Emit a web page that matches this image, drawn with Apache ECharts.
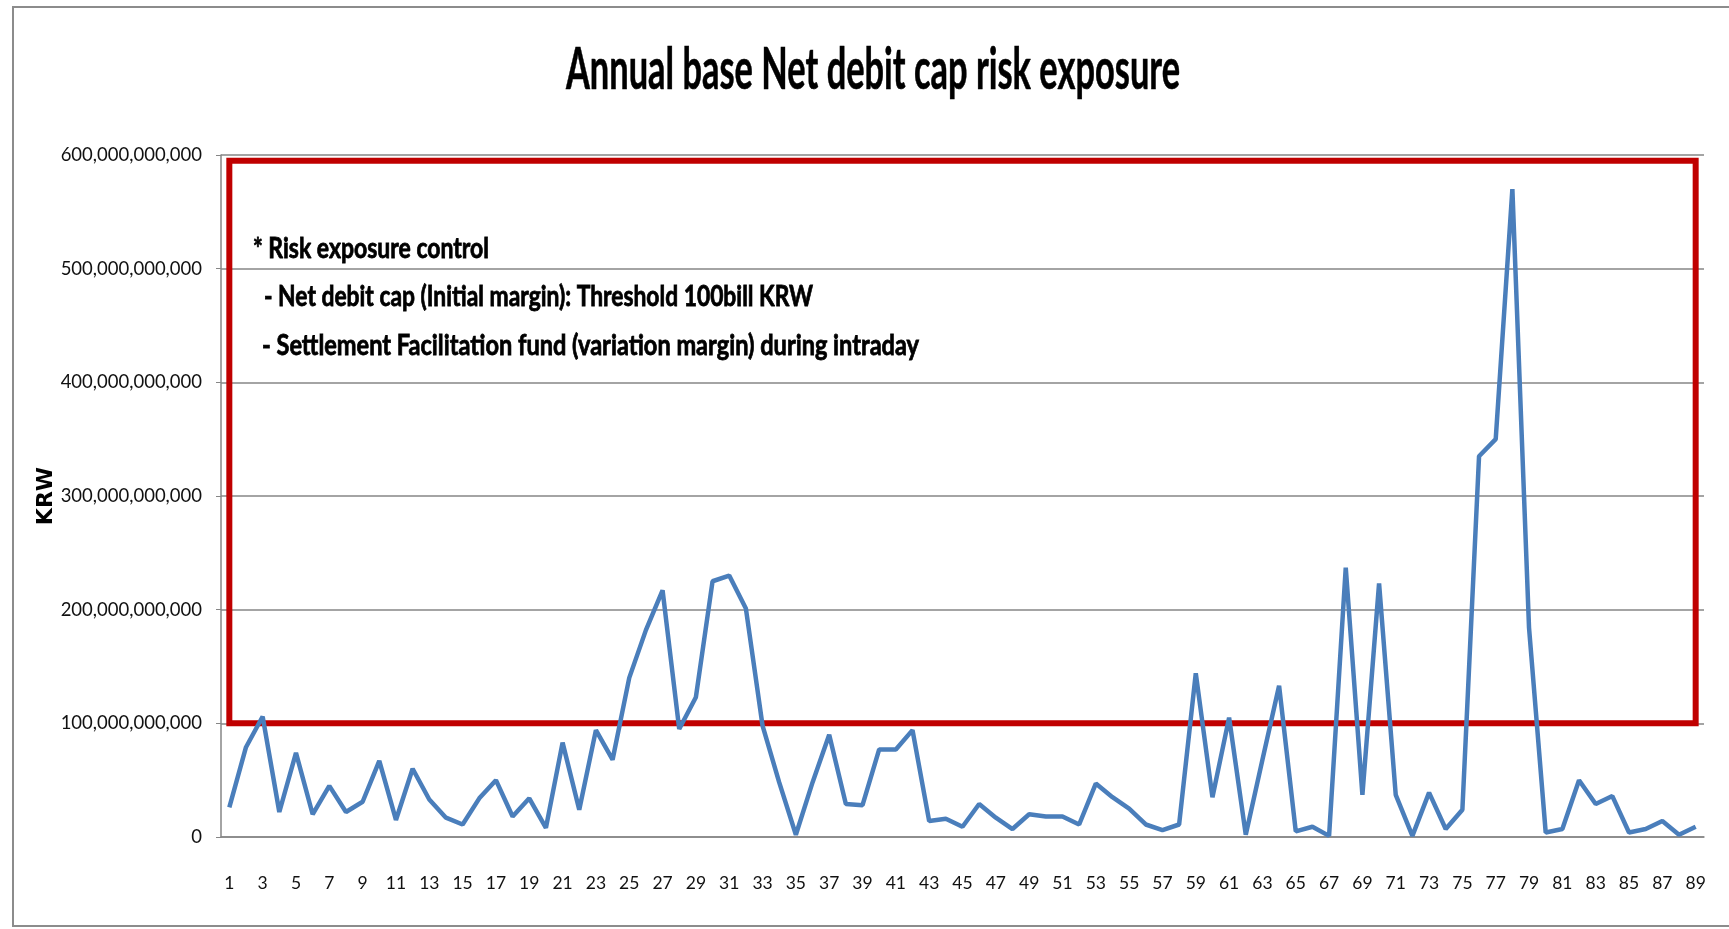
<!DOCTYPE html>
<html>
<head>
    <meta charset="UTF-8"/>
    <script type="text/javascript" src="https://cdn.jsdelivr.net/npm/echarts@6/dist/echarts.min.js"></script>
    <title>Annual base Net debit cap risk exposure</title>
    <style>
        html, body { margin: 0; padding: 0; background: #fff; }
        #main { width: 1729px; height: 929px; }
    </style>
</head>
<body>
<div id="main"></div>
<script type="text/javascript">
    // x categories (days)
    var days = [1, 2, 3, 4, 5, 6, 7, 8, 9, 10, 11, 12, 13, 14, 15, 16, 17, 18, 19, 20,
        21, 22, 23, 24, 25, 26, 27, 28, 29, 30, 31, 32, 33, 34, 35, 36, 37, 38, 39, 40,
        41, 42, 43, 44, 45, 46, 47, 48, 49, 50, 51, 52, 53, 54, 55, 56, 57, 58, 59, 60,
        61, 62, 63, 64, 65, 66, 67, 68, 69, 70, 71, 72, 73, 74, 75, 76, 77, 78, 79, 80,
        81, 82, 83, 84, 85, 86, 87, 88, 89]

    // exposure, in billion KRW
    var exposureBill = [26, 79, 106, 22, 74, 20, 45, 22, 31, 67, 15, 60, 33, 17, 11, 34, 50, 18, 34, 8,
        83, 24, 94, 68, 140, 182, 217, 95, 123, 225, 230, 201, 98, 48, 2, 48, 90, 29, 28, 77,
        77, 94, 14, 16, 9, 29, 17, 7, 20, 18, 18, 11, 47, 35, 25, 11, 6, 11, 144, 35,
        105, 2, 68, 133, 5, 9, 1, 237, 37, 223, 37, 1, 39, 7, 24, 335, 350, 570, 184, 4,
        7, 50, 29, 36, 4, 7, 14, 2, 9]

    // control box: from the threshold up to near the top
    var capThreshold = 100e9
    var boxTop = 595e9

    var chartTitle = 'Annual base Net debit cap risk exposure'
    var noteLines = [
        '* Risk exposure control',
        '- Net debit cap (Initial margin): Threshold 100bill KRW',
        '- Settlement Facilitation fund (variation margin) during intraday'
    ]

    var labelFont = "Lato, 'Open Sans', sans-serif"

    // squeeze text horizontally so it takes the given width (the original uses a condensed face)
    var measureCtx = document.createElement('canvas').getContext('2d')
    function fitScale(text, font, width) {
        measureCtx.font = font
        return width / measureCtx.measureText(text).width
    }

    var titleFont = 'bold 57px ' + labelFont
    var noteFont = 'bold 29px ' + labelFont

    function noteText(i, left, y, width) {
        return {
            type: 'text',
            x: left,
            y: y,
            scaleX: fitScale(noteLines[i], noteFont, width),
            silent: true,
            style: {
                text: noteLines[i],
                font: noteFont,
                fill: '#000',
                stroke: '#000',
                lineWidth: 0.8,
                align: 'left',
                verticalAlign: 'middle'
            }
        }
    }

    var myChart = echarts.init(document.getElementById('main'))

    var option = {
        backgroundColor: '#fff',
        animation: false,
        grid: {
            left: 221,
            right: 25,
            top: 155,
            bottom: 92,
            containLabel: false,
            outerBoundsMode: 'none'
        },
        xAxis: {
            type: 'category',
            data: days,
            boundaryGap: true,
            axisLine: { lineStyle: { color: '#868686', width: 1.5 } },
            axisTick: { show: false },
            axisLabel: {
                interval: 1,
                margin: 37,
                fontFamily: labelFont,
                fontSize: 17.5,
                color: '#111'
            }
        },
        yAxis: {
            type: 'value',
            min: 0,
            max: 600e9,
            interval: 100e9,
            name: 'KRW',
            nameLocation: 'middle',
            nameGap: 164,
            nameMoveOverlap: false,
            nameTextStyle: {
                fontFamily: "'DejaVu Sans', sans-serif",
                fontWeight: 'bold',
                fontSize: 22,
                color: '#000'
            },
            axisLine: { show: true, lineStyle: { color: '#868686', width: 1.5 } },
            axisTick: { show: true, length: 5, lineStyle: { color: '#868686' } },
            splitLine: { lineStyle: { color: '#868686', width: 1.5 } },
            axisLabel: {
                margin: 19,
                fontFamily: labelFont,
                fontSize: 18.5,
                color: '#111',
                formatter: function (v) {
                    return v.toLocaleString('en-US')
                }
            }
        },
        graphic: [
            {
                type: 'rect',
                silent: true,
                z: -1,
                shape: { x: 13, y: 7, width: 1760, height: 919 },
                style: { fill: 'none', stroke: '#8c8c8c', lineWidth: 2 }
            },
            {
                type: 'text',
                x: 873,
                y: 71,
                scaleX: fitScale(chartTitle, titleFont, 614),
                silent: true,
                style: {
                    text: chartTitle,
                    font: titleFont,
                    fill: '#000',
                    stroke: '#000',
                    lineWidth: 0.6,
                    align: 'center',
                    verticalAlign: 'middle'
                }
            },
            noteText(0, 253, 249, 236),
            noteText(1, 264, 297, 549),
            noteText(2, 262, 346, 657)
        ],
        series: [
            {
                name: 'Exposure',
                type: 'line',
                data: exposureBill.map(function (v) { return v * 1e9 }),
                showSymbol: false,
                lineStyle: { color: '#4a7ebb', width: 4.5 },
                itemStyle: { color: '#4a7ebb' },
                z: 3,
                markArea: {
                    silent: true,
                    itemStyle: {
                        color: 'rgba(0,0,0,0)',
                        borderColor: '#c00000',
                        borderWidth: 6
                    },
                    data: [[
                        { xAxis: 0, yAxis: capThreshold },
                        { xAxis: days.length - 1, yAxis: boxTop }
                    ]]
                }
            }
        ]
    }

    myChart.setOption(option)
</script>
</body>
</html>
